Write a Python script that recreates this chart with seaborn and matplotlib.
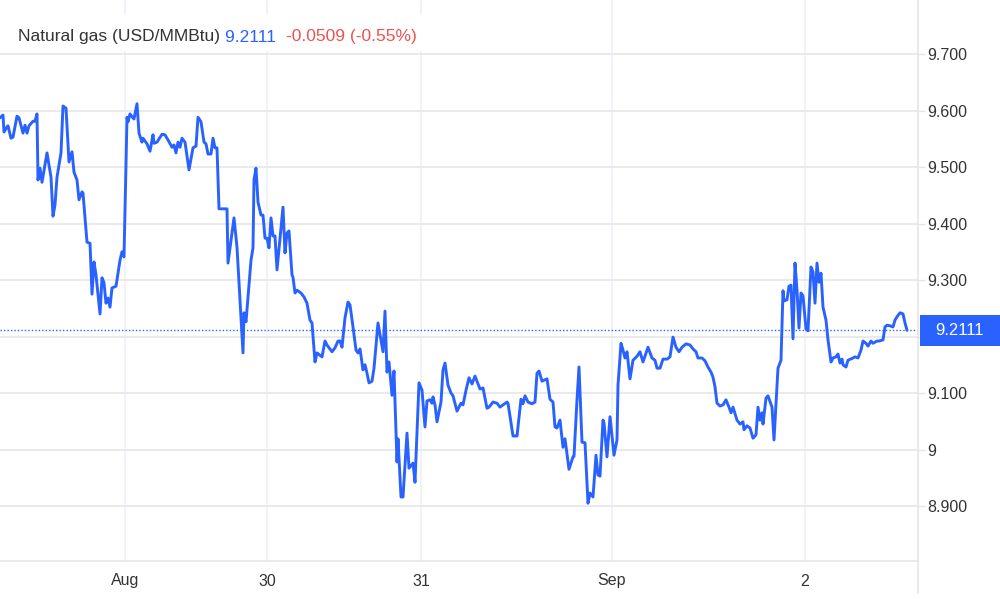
import matplotlib
matplotlib.use("Agg")
import matplotlib.pyplot as plt
from matplotlib.lines import Line2D
from matplotlib.patches import Rectangle
import seaborn as sns
import numpy as np

# intraday bars (6-minute bar index from the start of the window) and prices, USD/MMBtu
bar = [
    0, 3, 4, 7, 8, 11, 13, 17, 19, 23, 25, 27, 29, 33, 35, 37, 38, 40, 42, 47,
    51, 53, 55, 57, 61, 63, 66, 69, 72, 74, 77, 79, 82, 83, 87, 90, 92, 94, 96, 100,
    102, 104, 106, 108, 110, 112, 116, 120, 122, 124, 127, 128, 130, 133, 134, 137, 139, 142, 143, 147,
    150, 153, 154, 157, 162, 165, 168, 172, 174, 176, 178, 180, 182, 185, 189, 193, 196, 198, 201, 204,
    206, 208, 211, 213, 215, 217, 219, 223, 227, 228,
    234, 237, 243, 244, 246, 251, 253, 254, 256, 258, 261, 263, 265, 267, 269, 271, 273, 275, 277, 283,
    285, 287, 289, 292, 293, 295, 297, 301, 304, 307, 310, 312, 315, 317, 322, 325, 327, 332, 335, 338,
    340, 342, 345, 348, 350, 353, 356, 358, 360, 363, 365, 367, 369, 372, 374, 378, 383, 385, 387, 389,
    392, 394, 397, 398, 401, 403, 407, 409, 413, 415, 419, 422, 425, 427, 430,
    432, 433, 435, 437, 441, 443, 445, 448, 451, 453, 457, 461, 463, 466, 469, 472, 475, 480, 483, 487,
    489, 493, 497, 500, 503, 507, 508, 513, 517, 521, 523, 525, 528, 532, 535, 537, 539, 542, 547, 550,
    553, 555, 557, 560, 563, 565, 569, 573, 574, 577, 579, 582, 585, 588, 590, 593, 596, 598, 600, 603,
    604, 607, 610, 614, 617, 618, 621, 623, 625, 627, 630, 633, 637, 640, 643, 648, 652, 655, 657, 660,
    663, 667, 670, 673, 676, 679, 682, 686, 690, 693, 696, 698, 702, 705, 708, 711, 713, 715, 717, 720,
    723, 726, 729, 731, 733, 737, 740, 743, 744, 747, 750, 753, 756, 758, 760, 762, 763, 766, 768, 772,
    774, 777,
    778, 781, 783, 784, 787, 789, 791, 793, 795, 797, 799, 801, 803, 806, 808, 811, 813, 815, 817, 819,
    821, 823, 826, 828, 831, 833, 836, 838, 840, 842, 843, 846, 848, 853, 855, 858, 861, 863, 866, 868,
    871, 873, 877, 879, 883, 885, 887, 890, 893, 895, 897, 900, 903, 905, 907,
]
price = [
    9.587, 9.592, 9.562, 9.571, 9.573, 9.551, 9.553, 9.590, 9.587, 9.560,
    9.574, 9.560, 9.573, 9.581, 9.581, 9.594, 9.477, 9.498, 9.473, 9.525,
    9.482, 9.413, 9.433, 9.482, 9.525, 9.608, 9.604, 9.509, 9.527, 9.491,
    9.477, 9.442, 9.456, 9.454, 9.367, 9.365, 9.275, 9.332, 9.309, 9.240,
    9.304, 9.295, 9.259, 9.268, 9.252, 9.286, 9.289, 9.335, 9.350, 9.341,
    9.588, 9.580, 9.594, 9.587, 9.585, 9.612, 9.560, 9.544, 9.551, 9.541,
    9.528, 9.557, 9.542, 9.544, 9.558, 9.557, 9.548, 9.535, 9.539, 9.525,
    9.544, 9.535, 9.551, 9.544, 9.495, 9.534, 9.537, 9.588, 9.580, 9.544,
    9.541, 9.523, 9.523, 9.551, 9.534, 9.534, 9.426, 9.426, 9.426, 9.330,
    9.410, 9.358, 9.171, 9.242, 9.226, 9.335, 9.357, 9.477, 9.498, 9.438,
    9.415, 9.415, 9.374, 9.374, 9.357, 9.410, 9.378, 9.378, 9.318, 9.429,
    9.348, 9.383, 9.387, 9.309, 9.305, 9.277, 9.282, 9.277, 9.270, 9.259,
    9.229, 9.224, 9.155, 9.171, 9.164, 9.192, 9.185, 9.173, 9.180, 9.192,
    9.192, 9.181, 9.233, 9.261, 9.256, 9.217, 9.176, 9.171, 9.178, 9.141,
    9.150, 9.135, 9.118, 9.121, 9.144, 9.224, 9.173, 9.245, 9.137, 9.155,
    9.096, 9.139, 8.978, 9.019, 8.916, 8.916, 9.029, 8.967, 8.976, 8.942,
    9.118, 9.105, 9.040, 9.086, 9.088,
    9.082, 9.093, 9.079, 9.049, 9.084, 9.141, 9.153, 9.114, 9.100, 9.095,
    9.068, 9.082, 9.079, 9.105, 9.127, 9.116, 9.130, 9.107, 9.109, 9.073,
    9.075, 9.084, 9.082, 9.075, 9.079, 9.084, 9.082, 9.024, 9.024, 9.089,
    9.081, 9.095, 9.084, 9.081, 9.084, 9.135, 9.139, 9.121, 9.125, 9.089,
    9.084, 9.040, 9.038, 9.052, 9.004, 9.019, 8.965, 8.987, 8.988, 9.088,
    9.146, 9.013, 9.012, 8.905, 8.923, 8.916, 8.990, 8.955, 8.953, 9.052,
    9.047, 8.987, 9.058, 8.990, 9.017, 9.114, 9.188, 9.176, 9.162, 9.173,
    9.125, 9.158, 9.165, 9.173, 9.155, 9.181, 9.162, 9.158, 9.144, 9.144,
    9.160, 9.160, 9.164, 9.199, 9.181, 9.173, 9.181, 9.187, 9.185, 9.178,
    9.173, 9.162, 9.162, 9.157, 9.146, 9.137, 9.128, 9.111, 9.082, 9.077,
    9.079, 9.088, 9.075, 9.065, 9.075, 9.052, 9.045, 9.049, 9.035, 9.042,
    9.038, 9.020, 9.026, 9.075, 9.052, 9.065, 9.045, 9.091, 9.095, 9.075,
    9.017, 9.111,
    9.144, 9.158, 9.281, 9.263, 9.265, 9.289, 9.291, 9.196, 9.330, 9.282,
    9.215, 9.277, 9.272, 9.213, 9.210, 9.323, 9.314, 9.259, 9.330, 9.296,
    9.312, 9.252, 9.229, 9.194, 9.155, 9.162, 9.164, 9.169, 9.153, 9.160,
    9.150, 9.146, 9.158, 9.162, 9.164, 9.162, 9.176, 9.192, 9.188, 9.183,
    9.192, 9.188, 9.192, 9.192, 9.194, 9.217, 9.220, 9.219, 9.217, 9.229,
    9.235, 9.242, 9.240, 9.224, 9.2111,
]

day_ticks = [125, 267, 421, 612, 805]
day_labels = ["Aug", "30", "31", "Sep", "2"]
# the 9.200 label sits under the last-price tag, so it stays blank
price_ticks = [8.9, 9.0, 9.1, 9.2, 9.3, 9.4, 9.5, 9.6, 9.7]
price_labels = ["8.900", "9", "9.100", "", "9.300", "9.400", "9.500", "9.600", "9.700"]

change = "-0.0509 (-0.55%)"
last = price[-1]

BLUE = "#2962ff"
RED = "#f0514f"
TXT = "#333333"

sns.set_theme(style="white")
plt.rcParams["font.family"] = ["Liberation Sans", "DejaVu Sans"]

fig = plt.figure(figsize=(10, 5.99), dpi=100)
ax = fig.add_axes([0, 1 - 561 / 599, 0.918, 561 / 599])

sns.lineplot(x=bar, y=price, ax=ax, color=BLUE, linewidth=2.1, estimator=None, sort=False)
ax.axhline(last, color=BLUE, linestyle=(0, (1, 1.5)), linewidth=1.0, zorder=1)

ax.set_xlim(0, 918)
ax.set_ylim(8.8027, 9.7956)
ax.set_xticks(day_ticks)
ax.set_xticklabels(day_labels)
ax.set_yticks(price_ticks)
ax.set_yticklabels(price_labels)
ax.yaxis.tick_right()
ax.set_xlabel("")
ax.set_ylabel("")

ax.xaxis.grid(True, color="#eef2f8", linewidth=1.2)
ax.yaxis.grid(True, color="#e6e6e6", linewidth=1.2)
ax.set_axisbelow(True)
ax.tick_params(axis="x", length=0, pad=9, labelsize=11.5, labelcolor=TXT)
ax.tick_params(axis="y", length=5, width=1, color="#e6e6e6", pad=2, labelsize=11.5, labelcolor=TXT)

for side in ["left", "top"]:
    ax.spines[side].set_visible(False)
for side in ["bottom", "right"]:
    ax.spines[side].set_color("#e6e6e6")
    ax.spines[side].set_linewidth(1.2)

# right border continues below the axis
fig.add_artist(Line2D([0.918, 0.918], [1 - 561 / 599, 1 - 593 / 599],
                      color="#e6e6e6", linewidth=1.2, transform=fig.transFigure))

# last-price tag on the axis
ydisp = ax.transData.transform((0, last))[1]
yfig = ydisp / fig.bbox.height
h = 31 / 599
fig.patches.append(Rectangle((0.920, yfig - h / 2), 0.080, h, transform=fig.transFigure,
                             facecolor=BLUE, edgecolor="none", zorder=5))
fig.text(0.960, yfig, f"{last:.4f}", color="white", fontsize=12,
         ha="center", va="center", zorder=6)

# header with name, last price and change
fig.patches.append(Rectangle((0.010, 1 - 51 / 599), 0.420, 36 / 599, transform=fig.transFigure,
                             facecolor="white", edgecolor="none", zorder=2))
renderer = fig.canvas.get_renderer()
ty = 1 - 37 / 599
x0 = 0.018
parts = [("Natural gas (USD/MMBtu) ", TXT), (f"{last:.4f}  ", BLUE), (change, RED)]
for s, c in parts:
    t = fig.text(x0, ty, s, color=c, fontsize=12.5, ha="left", va="center", zorder=6)
    bb = t.get_window_extent(renderer=renderer)
    x0 += bb.width / fig.bbox.width

fig.savefig("out.png", dpi=100, facecolor="white")
